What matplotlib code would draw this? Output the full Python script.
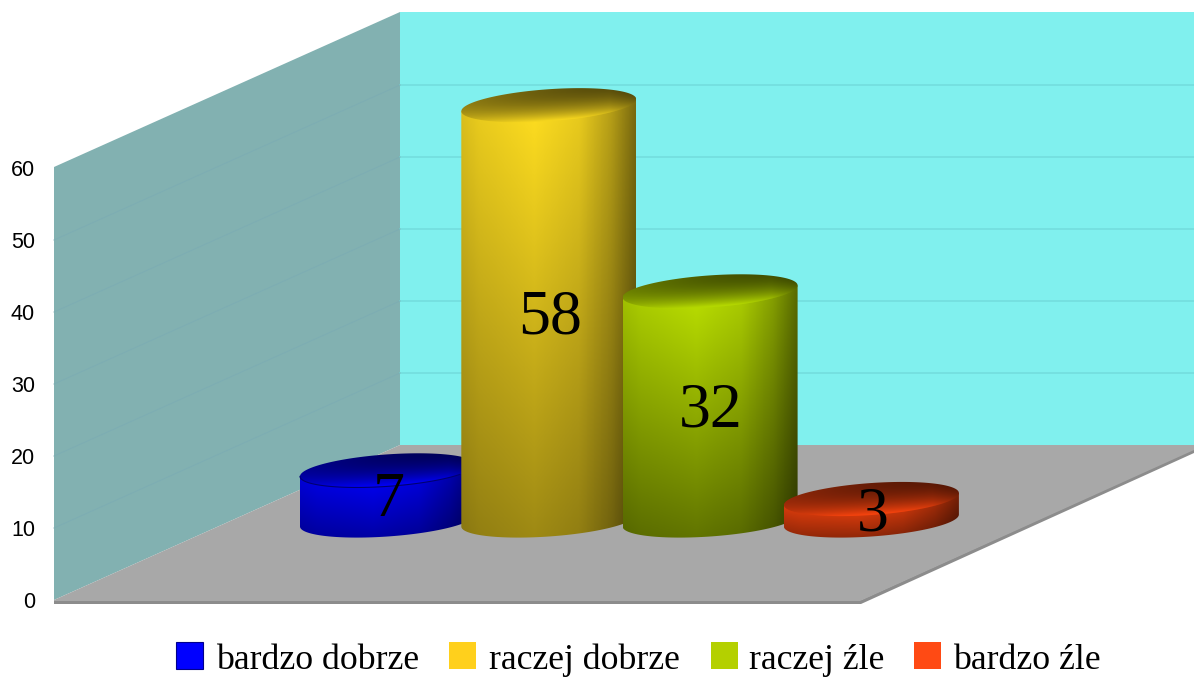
import numpy as np
import matplotlib
matplotlib.use('Agg')
import matplotlib.pyplot as plt
from matplotlib.patches import Polygon, Rectangle

# Data
categories = ['bardzo dobrze', 'raczej dobrze', 'raczej źle', 'bardzo źle']
values = [7, 58, 32, 3]
ticks = [0, 10, 20, 30, 40, 50, 60]
bar_colors = [(0, 0, 255), (255, 222, 32), (188, 225, 0), (255, 70, 15)]
bar_fade = [0.35, 0.38, 0.48, 0.42]
legend_colors = ['#0000ff', '#ffd01c', '#b4d000', '#ff4a14']
legend_x = [176, 449, 711, 914]
legend_gap = [40, 40, 38, 39]

# Scene geometry in pixels
PX_PER_UNIT = 7.2
BAR_PX_PER_UNIT = 7.16
WALL_LEFT, WALL_BACK = 54, 400
FLOOR_FRONT, FLOOR_REAR = 600, 445
BAR_BASE = 520.5
BAR_WIDTH = 175
BAR_STEP = 161.3
BAR_X0 = 300
TILT = 6
B = 16


def val_px(v, base):
    return base - v * PX_PER_UNIT


def bar_px(v):
    return BAR_BASE - v * BAR_PX_PER_UNIT


def ellipse(cx, cy, t):
    a = BAR_WIDTH / 2
    return cx + a * np.cos(t), cy - TILT * np.cos(t) + B * np.sin(t)


def draw_bar(ax, x0, value, color, fade):
    cx = x0 + BAR_WIDTH / 2
    top = bar_px(value)
    base = np.array(color, dtype=float)

    xs = np.linspace(x0, x0 + BAR_WIDTH, 200)
    ys = np.linspace(top - 25, BAR_BASE + 25, 500)
    X, Y = np.meshgrid(xs, ys)
    u = (X - x0) / BAR_WIDTH
    sheared = Y + (X - cx) * 2 * TILT / BAR_WIDTH

    # side of the cylinder
    h = np.interp(u, [0, 0.1, 0.42, 0.68, 0.86, 1], [0.86, 0.92, 1, 0.92, 0.72, 0.48])
    v = np.clip((sheared - top) / (BAR_BASE + B - top), 0, 1)
    side_img = base * (h * (1 - fade * v))[..., None]

    t_pts = np.linspace(0, np.pi, 80)
    ex, ey = ellipse(cx, BAR_BASE, t_pts)
    side_path = np.column_stack([np.r_[x0 + BAR_WIDTH, ex, x0],
                                 np.r_[top - TILT, ey, top + TILT]])
    patch = Polygon(side_path, closed=True, fc='none', ec='none', transform=ax.transData)
    ax.add_patch(patch)
    im = ax.imshow(np.clip(side_img, 0, 255).astype(np.uint8),
                   extent=(x0, x0 + BAR_WIDTH, ys[-1], ys[0]), aspect='auto', zorder=3)
    im.set_clip_path(patch)

    # top face, dark at the back and fading into the side at the front
    t_all = np.linspace(0, 2 * np.pi, 160)
    ex, ey = ellipse(cx, top, t_all)
    top_patch = Polygon(np.column_stack([ex, ey]), closed=True, fc='none', ec='none')
    ax.add_patch(top_patch)
    w = np.clip((sheared - (top - B)) / (2 * B), 0, 1)
    f = 0.34 + 0.62 * w ** 2 + 0.26 * (1 - u) ** 2 * (1 - w)
    top_img = base * (f * np.interp(u, [0, 0.85, 1], [1, 1, 0.8]))[..., None]
    im2 = ax.imshow(np.clip(top_img, 0, 255).astype(np.uint8),
                    extent=(x0, x0 + BAR_WIDTH, ys[-1], ys[0]), aspect='auto', zorder=3)
    im2.set_clip_path(top_patch)


fig = plt.figure(figsize=(11.94, 6.77), dpi=100)
ax = fig.add_axes([0, 0, 1, 1])
ax.axis('off')

# Walls and floor
height = ticks[-1] * PX_PER_UNIT
back_top = FLOOR_REAR - height - 1
left_top = FLOOR_FRONT - height - 1
ax.add_patch(Polygon([(WALL_BACK, back_top), (1194, back_top), (1194, FLOOR_REAR), (WALL_BACK, FLOOR_REAR)],
                     fc='#80f0ee', ec='none', zorder=1))
ax.add_patch(Polygon([(WALL_LEFT, left_top), (WALL_BACK, back_top), (WALL_BACK, FLOOR_REAR), (WALL_LEFT, FLOOR_FRONT)],
                     fc='#82b1b1', ec='none', zorder=1))
ax.add_patch(Polygon([(WALL_LEFT, FLOOR_FRONT + 4), (861, FLOOR_FRONT + 4), (1194, 453), (1194, 449), (861, FLOOR_FRONT), (WALL_LEFT, FLOOR_FRONT)],
                     fc='#8c8c8c', ec='none', zorder=1))
ax.add_patch(Polygon([(WALL_LEFT, FLOOR_FRONT), (WALL_BACK, FLOOR_REAR), (1194, FLOOR_REAR), (1194, 450), (860, FLOOR_FRONT + 1), (WALL_LEFT, FLOOR_FRONT + 1)],
                     fc='#a8a8a8', ec='none', zorder=1.5))

# Gridlines
for tk in ticks[1:-1]:
    ax.plot([WALL_BACK, 1194], [val_px(tk, FLOOR_REAR)] * 2, color='#72dcdc', lw=1.1, zorder=2)
    ax.plot([WALL_LEFT, WALL_BACK], [val_px(tk, FLOOR_FRONT), val_px(tk, FLOOR_REAR)],
            color='#7dadb3', lw=0.7, zorder=2)

# Bars
for i, (val, col, fade) in enumerate(zip(values, bar_colors, bar_fade)):
    draw_bar(ax, BAR_X0 + i * BAR_STEP, val, col, fade)

# Thin outline on the first bar's top edge
cx0 = BAR_X0 + BAR_WIDTH / 2
ex0, ey0 = ellipse(cx0, bar_px(values[0]), np.linspace(0, np.pi, 80))
keep = ex0 < BAR_X0 + BAR_STEP
ax.plot(ex0[keep], ey0[keep], color='#000070', lw=0.8, zorder=3.0)

# Value labels
for i, val in enumerate(values):
    cx = BAR_X0 + i * BAR_STEP + BAR_WIDTH / 2
    ax.text(cx + 1, bar_px(val / 2) + 6, str(val), family='Liberation Serif', fontsize=46,
            ha='center', va='center', color='black', zorder=5)

# Axis labels
for tk in ticks:
    ax.text(35, val_px(tk, FLOOR_FRONT) + 2, str(tk), family='Liberation Sans', fontsize=15.5,
            ha='right', va='center', color='black', zorder=5)

# Legend
for name, col, lx, gap in zip(categories, legend_colors, legend_x, legend_gap):
    ec = '#00008c' if lx == legend_x[0] else 'none'
    ax.add_patch(Rectangle((lx, 642), 27, 26.5, fc=col, ec=ec, lw=0.8, zorder=5))
    ax.text(lx + gap, 669, name, family='Liberation Serif', fontsize=25.7, ha='left', va='baseline',
            color='black', zorder=5)

ax.set_xlim(0, 1194)
ax.set_ylim(677, 0)
fig.savefig('out.png', dpi=100)
